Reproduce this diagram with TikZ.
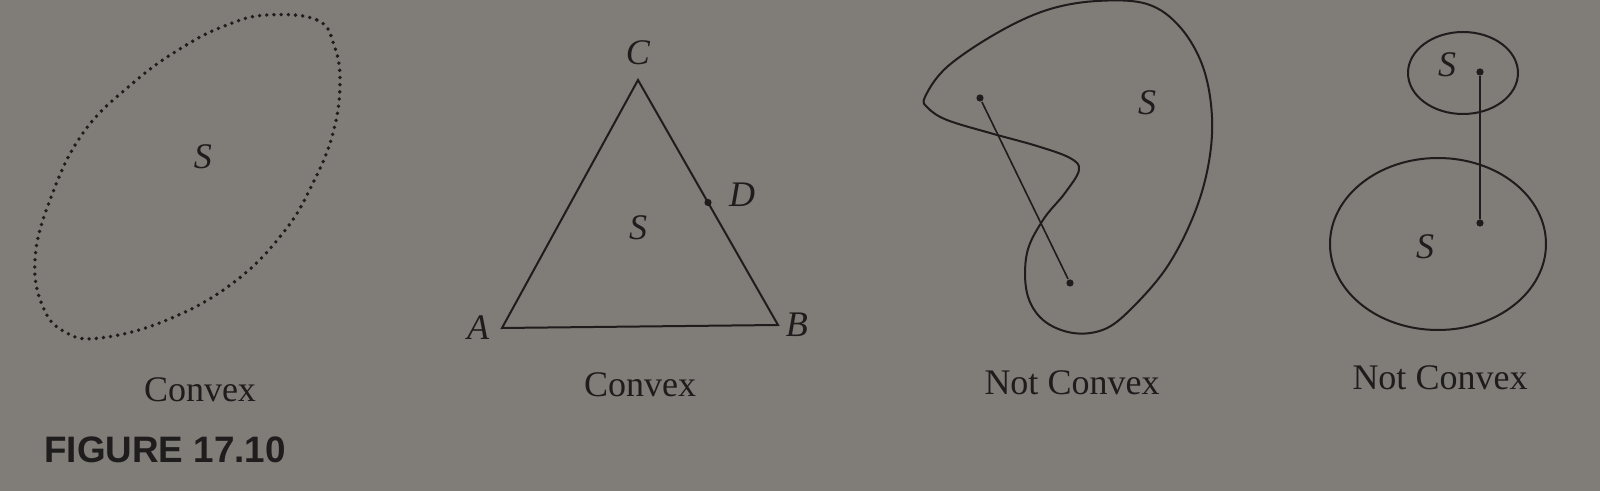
\documentclass[tikz,border=0pt]{standalone}
\usepackage{fontspec}
\setmainfont{Liberation Serif}
\setsansfont{Liberation Sans}
\usetikzlibrary{positioning,calc}
\definecolor{cvPaper}{RGB}{128,124,119}
\definecolor{cvInk}{RGB}{30,28,28}

\begin{document}
\begin{tikzpicture}[x=0.25pt,y=-0.25pt,
  edge/.style={draw=cvInk,line width=0.5pt},
  dots/.style={draw=cvInk,line width=0.95pt,line cap=round,dash pattern=on 0pt off 1.8pt},
  pt/.style={circle,fill=cvInk,inner sep=0pt,minimum size=1.8pt},
  var/.style={text=cvInk,font=\itshape\fontsize{9}{11}\selectfont,inner sep=1pt},
  captxt/.style={text=cvInk,font=\fontsize{9}{11}\selectfont}]
\fill[cvPaper] (0,0) rectangle (1600,491);
\useasboundingbox (0,0) rectangle (1600,491);

% convex set, dotted outline
\draw[dots] plot[smooth cycle,tension=0.7] coordinates {
  (267,15) (317,20) (334,45) (340,83) (333,133) (313,183) (283,233)
  (233,283) (167,320) (100,338) (65,332) (43,307) (35,260) (50,200)
  (83,133) (133,83) (183,47) (227,25)};
\node[var] (s1) at (203,157) {S};
\node[captxt] (c1) at (200,390) {Convex};
\node[text=cvInk,font=\sffamily\bfseries\fontsize{9.2}{11}\selectfont] (fig) at (165,450) {FIGURE 17.10};

% triangle
\coordinate (A) at (502,328);
\coordinate (B) at (778,325);
\coordinate (C) at (638,80);
\draw[edge] (A) -- (B) -- (C) -- cycle;
\node[pt] (D) at ($(C)!0.5!(B)$) {};
\node[var,left=2pt of A] (lA) {A};
\node[var,right=0.8pt of B] (lB) {B};
\node[var,above=2.5pt of C] (lC) {C};
\node[var,right=3pt of D,yshift=2pt] (lD) {D};
\node[var] (s2) at (638,228) {S};
\node[captxt] (c2) at (640,385) {Convex};

% non-convex blob
\draw[edge] plot[smooth cycle,tension=0.6] coordinates {
  (925,97) (947,67) (997,33) (1047,10) (1097,1) (1147,4) (1180,27)
  (1203,67) (1212,117) (1208,167) (1193,217) (1167,267) (1133,307)
  (1105,329) (1073,333) (1043,320) (1027,293) (1027,253) (1043,220)
  (1065,193) (1079,170) (1070,158) (1037,146) (990,133) (947,120) (928,108)};
\node[pt] (p1) at (980,98) {};
\node[pt] (p2) at (1070,283) {};
\draw[edge,line width=0.4pt] (p1) -- (p2);
\node[var] (s3) at (1147,103) {S};
\node[captxt] (c3) at (1072,383) {Not Convex};

% two separate disks
\draw[edge] (1463,73) ellipse [x radius=55, y radius=41];
\draw[edge] (1438,244) ellipse [x radius=108, y radius=86];
\node[pt] (q1) at (1480,72) {};
\node[pt] (q2) at (1480,223) {};
\draw[edge,line width=0.3pt] (q1) -- (q2);
\node[var] (s4) at (1447,65) {S};
\node[var] (s5) at (1425,247) {S};
\node[captxt] (c4) at (1440,378) {Not Convex};
\end{tikzpicture}
\end{document}
